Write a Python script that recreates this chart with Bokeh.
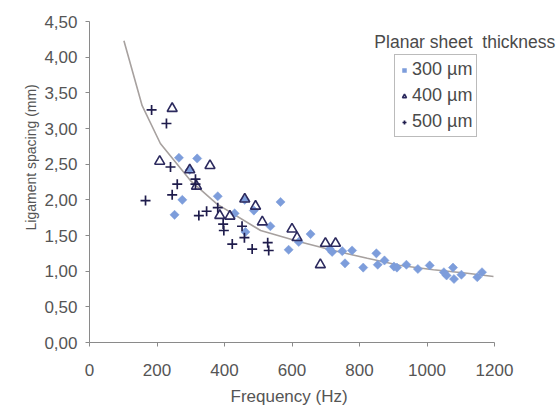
from bokeh.plotting import figure
from bokeh.models import Legend, LegendItem, Label, FixedTicker, Title
from bokeh.embed import file_html
from bokeh.resources import INLINE
import math

# ---------------- data ----------------
freq_300 = [265, 319, 297, 275, 252, 380, 430, 460, 487, 462, 536, 566, 590, 620, 655,
            712, 719, 749, 778, 757, 811, 850, 854, 874, 902, 911, 939, 973, 1008, 1050,
            1058, 1077, 1080, 1102, 1149, 1163]
spacing_300 = [2.59, 2.58, 2.42, 2.00, 1.79, 2.05, 1.81, 2.00, 1.85, 1.55, 1.63, 1.97, 1.30, 1.41, 1.52,
               1.31, 1.27, 1.28, 1.29, 1.11, 1.05, 1.25, 1.09, 1.15, 1.065, 1.05, 1.09, 1.03, 1.08, 0.985,
               0.94, 1.05, 0.89, 0.95, 0.915, 0.985]

freq_400 = [245, 208, 357, 297, 317, 386, 416, 460, 492, 512, 600, 615, 684, 699, 729]
spacing_400 = [3.28, 2.54, 2.48, 2.42, 2.19, 1.78, 1.77, 2.01, 1.91, 1.69, 1.59, 1.47, 1.09, 1.39, 1.39]

freq_500 = [184, 228, 240, 314, 314, 260, 245, 166, 324, 347, 380, 396, 398, 452, 459,
            423, 482, 528, 531]
spacing_500 = [3.26, 3.07, 2.46, 2.29, 2.22, 2.22, 2.07, 1.99, 1.78, 1.84, 1.89, 1.66, 1.57, 1.63, 1.47,
               1.38, 1.31, 1.40, 1.29]

trend_freq = [102, 156, 210, 299, 378, 507, 625, 723, 823, 921, 1019, 1119, 1197]
trend_spacing = [4.23, 3.32, 2.79, 2.27, 1.94, 1.57, 1.41, 1.29, 1.18, 1.08, 1.02, 0.97, 0.925]

x_ticks = [0, 200, 400, 600, 800, 1000, 1200]
y_ticks = [0, 0.5, 1.0, 1.5, 2.0, 2.5, 3.0, 3.5, 4.0, 4.5]
y_tick_labels = ["0,00", "0,50", "1,00", "1,50", "2,00", "2,50", "3,00", "3,50", "4,00", "4,50"]

series_names = ["300 µm", "400 µm", "500 µm"]
legend_title = "Planar sheet\u00a0 thickness"
x_title = "Frequency (Hz)"
y_title = "Ligament spacing (mm)"

# ---------------- figure ----------------
FONT = "Liberation Sans"
TXT = "#555555"
AX = "#8a8a8a"

FRAME_W = 470          # frame runs to the right edge so the legend title is not clipped
AXIS_W = 405           # pixel length of the 0..1200 axis
x_end = x_ticks[-1] * FRAME_W / AXIS_W

p = figure(width=559, height=414, x_range=(0, x_end), y_range=(0, 4.5),
           output_backend="svg", toolbar_location=None,
           min_border_left=89, min_border_right=0, min_border_top=21, min_border_bottom=72)
p.outline_line_color = None
p.grid.visible = False
p.background_fill_color = "white"

for ax in (p.xaxis[0], p.yaxis[0]):
    ax.axis_line_color = AX
    ax.major_tick_line_color = AX
    ax.minor_tick_line_color = None
    ax.major_tick_out = 4
    ax.major_tick_in = 0
    ax.major_label_text_font = FONT
    ax.major_label_text_font_size = "17px"
    ax.major_label_text_color = TXT

p.xaxis.ticker = FixedTicker(ticks=x_ticks)
p.xaxis.bounds = (x_ticks[0], x_ticks[-1])
p.yaxis.ticker = FixedTicker(ticks=y_ticks)
p.yaxis.major_label_overrides = {t: s for t, s in zip(y_ticks, y_tick_labels)}
p.xaxis.major_label_standoff = 17
p.yaxis.major_label_standoff = 8

# axis titles as side titles so they can sit where the original puts them
xt = Title(text=x_title, align="left", text_font=FONT, text_font_size="17px",
           text_font_style="normal", text_color=TXT, offset=141, standoff=13)
p.add_layout(xt, "below")
yt = Title(text=y_title, align="left", vertical_align="top", text_font=FONT, text_font_size="14px",
           text_font_style="normal", text_color=TXT, offset=112, standoff=2)
p.add_layout(yt, "left")

p.line(trend_freq, trend_spacing, line_color="#a7a19f", line_width=1.6)

r300 = p.scatter(freq_300, spacing_300, marker="square", size=6.5, angle=math.pi / 4,
                 fill_color="#7d9ddb", line_color="#7d9ddb", line_width=0.5)
r400 = p.scatter(freq_400, spacing_400, marker="triangle", size=10,
                 fill_color=None, line_color="#2c2a5e", line_width=1.6)
r500 = p.scatter(freq_500, spacing_500, marker="cross", size=10,
                 line_color="#1f1c4c", line_width=1.7)

legend = Legend(items=[LegendItem(label=series_names[0], renderers=[r300]),
                       LegendItem(label=series_names[1], renderers=[r400]),
                       LegendItem(label=series_names[2], renderers=[r500])],
                location=(305, 205), orientation="vertical",
                label_text_font=FONT, label_text_font_size="18px", label_text_color="#4a4a4a",
                glyph_width=10, glyph_height=20, label_height=20, label_standoff=3,
                spacing=5, padding=4, margin=0,
                border_line_color="#777777", border_line_width=1,
                background_fill_color="white", background_fill_alpha=1.0)
p.add_layout(legend, "center")

title = Label(x=844, y=4.21, text=legend_title, text_font=FONT, text_font_size="17.5px",
              text_color="#4a4a4a", text_align="left", text_baseline="middle")
p.add_layout(title)

open("out.html", "w").write(file_html(p, INLINE))
